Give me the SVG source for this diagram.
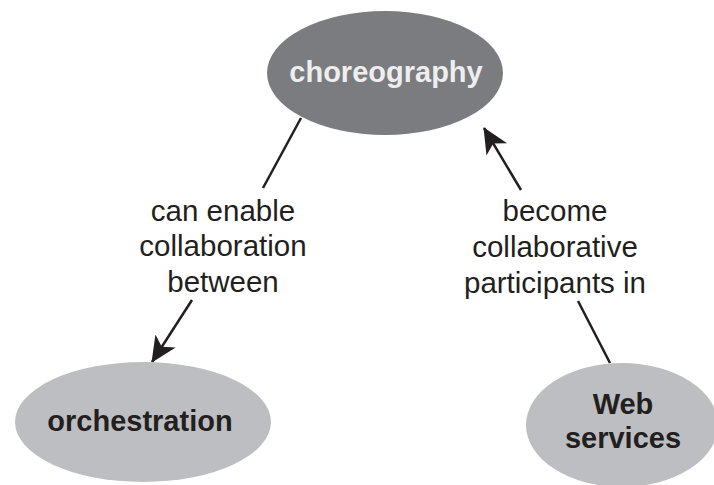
<svg xmlns="http://www.w3.org/2000/svg" width="714" height="485" viewBox="0 0 714 485">
  <style>
    .dark { fill: #7b7c80; }
    .light { fill: #bdbec1; }
    .ntext { font-family: "Liberation Sans", Arial, sans-serif; font-weight: bold; font-size: 29px; text-anchor: middle; }
    .ltext { font-family: "Liberation Sans", Arial, sans-serif; font-size: 29.5px; text-anchor: middle; fill: #231f20; }
    .edge { stroke: #231f20; stroke-width: 2.5; fill: none; }
  </style>
  <defs>
    <marker id="arrow" viewBox="0 0 26 26" refX="25" refY="13" markerWidth="26" markerHeight="26" markerUnits="userSpaceOnUse" orient="auto">
      <path d="M0,1 L26,13 L0,25 L7,13 Z" fill="#231f20"/>
    </marker>
  </defs>

  <rect width="714" height="485" fill="#ffffff"/>

  <g id="connectors">
    <line class="edge" x1="301" y1="118" x2="263" y2="188"/>
    <line class="edge" x1="192" y1="300" x2="152" y2="362" marker-end="url(#arrow)"/>
    <line class="edge" x1="610" y1="363" x2="578" y2="301"/>
    <line class="edge" x1="521" y1="190" x2="484" y2="128" marker-end="url(#arrow)"/>
    <text class="ltext" x="223" y="221">can enable</text>
    <text class="ltext" x="223" y="256">collaboration</text>
    <text class="ltext" x="223" y="292">between</text>
    <text class="ltext" x="555" y="221">become</text>
    <text class="ltext" x="555" y="257">collaborative</text>
    <text class="ltext" x="555" y="293">participants in</text>
  </g>

  <g id="choreography">
    <ellipse class="dark" cx="385" cy="73" rx="118" ry="62"/>
    <text class="ntext" x="386" y="82" fill="#eeeeee">choreography</text>
  </g>

  <g id="orchestration">
    <ellipse class="light" cx="143" cy="422" rx="128" ry="60"/>
    <text class="ntext" x="140" y="431" fill="#231f20">orchestration</text>
  </g>

  <g id="web-services">
    <ellipse class="light" cx="622" cy="425" rx="96" ry="62"/>
    <text class="ntext" x="623" y="414" fill="#231f20">Web</text>
    <text class="ntext" x="623" y="448" fill="#231f20">services</text>
  </g>
</svg>
